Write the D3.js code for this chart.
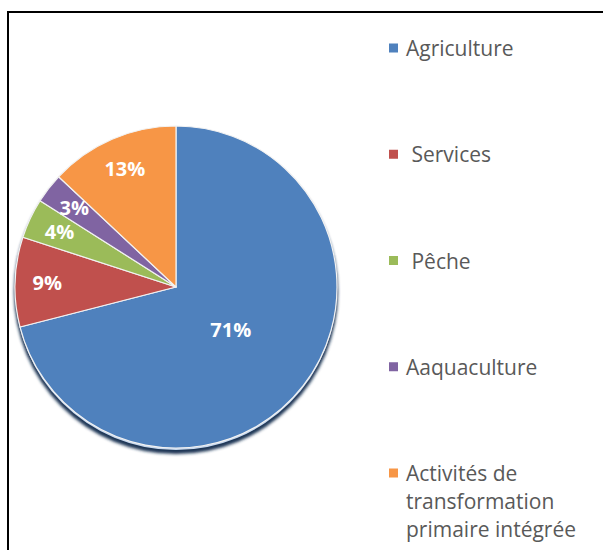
<!DOCTYPE html>
<html>
<head>
<meta charset="utf-8">
<script src="https://cdn.jsdelivr.net/npm/d3@7"></script>
<style>
  html, body { margin: 0; padding: 0; background: #ffffff; }
  svg { display: block; }
</style>
</head>
<body>
<svg id="chart" width="603" height="550"></svg>
<script>
// ---- data ----
const categories = ["Agriculture", " Services", " Pêche", "Aaquaculture", "Activités de transformation primaire intégrée"];
const values = [71, 9, 4, 3, 13];
const percentLabels = ["71%", "9%", "4%", "3%", "13%"];
const colors = ["#4f81bd", "#c0504d", "#9bbb59", "#8064a2", "#f79646"];

const W = 603, H = 550;
const svg = d3.select("#chart");

// frame (only top and left visible)
svg.append("rect")
  .attr("x", 8).attr("y", 12)
  .attr("width", 800).attr("height", 800)
  .attr("fill", "none").attr("stroke", "#000").attr("stroke-width", 2);

const cx = 176, cy = 287, R = 161;

const defs = svg.append("defs");
const blur = defs.append("filter").attr("id", "shadowBlur")
  .attr("x", "-20%").attr("y", "-20%").attr("width", "140%").attr("height", "140%");
blur.append("feGaussianBlur").attr("stdDeviation", 1.6);

const g = svg.append("g").attr("transform", `translate(${cx},${cy})`);

// shadow under pie
g.append("circle")
  .attr("cx", 0).attr("cy", 5).attr("r", R + 1)
  .attr("fill", "#1c3454")
  .attr("filter", "url(#shadowBlur)");
g.append("circle")
  .attr("cx", 0).attr("cy", 2).attr("r", R)
  .attr("fill", "#c9d9ee");

const pie = d3.pie().sort(null).value(d => d)(values);
const arc = d3.arc().innerRadius(0).outerRadius(R);

g.selectAll("path.slice")
  .data(pie)
  .join("path")
  .attr("class", "slice")
  .attr("d", arc)
  .attr("fill", (d, i) => colors[i])
  .attr("stroke", "#f2f2f2")
  .attr("stroke-width", 1.2)
  .attr("stroke-linejoin", "round");

// percentage labels
const smallArc = d3.arc().innerRadius(R * 0.8).outerRadius(R * 0.8);
const bigArc = d3.arc().innerRadius(R * 0.43).outerRadius(R * 0.43);
g.selectAll("text.pct")
  .data(pie)
  .join("text")
  .attr("class", "pct")
  .attr("transform", d => {
    const c = (d.value > 50 ? bigArc : smallArc).centroid(d);
    return `translate(${c[0]},${c[1]})`;
  })
  .attr("text-anchor", "middle")
  .attr("dy", "0.36em")
  .attr("font-family", "'Open Sans', sans-serif")
  .attr("font-weight", "bold")
  .attr("font-size", 20)
  .attr("fill", "#ffffff")
  .text((d, i) => percentLabels[i]);

// legend
const legendY = d3.scalePoint().domain(categories).range([48, 473]);
const leg = svg.append("g");
const items = leg.selectAll("g.item")
  .data(categories)
  .join("g")
  .attr("class", "item")
  .attr("transform", d => `translate(389,${legendY(d)})`);

items.append("rect")
  .attr("x", 0).attr("y", -4.5)
  .attr("width", 9).attr("height", 9)
  .attr("fill", (d, i) => colors[i]);

items.each(function(d) {
  const t = d3.select(this).append("text")
    .attr("x", 17).attr("y", 8)
    .attr("font-family", "'Open Sans', sans-serif")
    .attr("font-size", 21)
    .attr("fill", "#595959")
    .style("white-space", "pre");
  const maxW = 192;
  const lead = d.startsWith(" ") ? " " : "";
  const ws = d.split(" ").filter(w => w.length);
  let line = [];
  let lineNo = 0;
  let tspan = t.append("tspan").attr("x", 17).attr("y", 8);
  ws.forEach(w => {
    line.push(w);
    tspan.text((lineNo === 0 ? lead : "") + line.join(" "));
    if (tspan.node().getComputedTextLength() > maxW && line.length > 1) {
      line.pop();
      tspan.text((lineNo === 0 ? lead : "") + line.join(" "));
      line = [w];
      lineNo++;
      tspan = t.append("tspan").attr("x", 17).attr("y", 8 + lineNo * 28).text(w);
    }
  });
});
</script>
</body>
</html>
